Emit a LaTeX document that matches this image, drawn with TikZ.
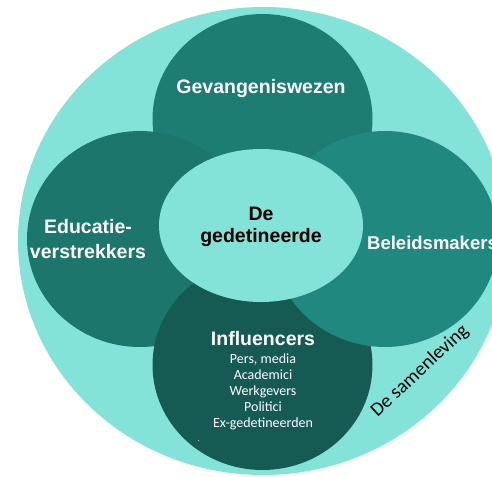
\documentclass[tikz,border=0pt]{standalone}
\usepackage{fontspec}
\setmainfont{Liberation Sans}
\newfontfamily\calib{Carlito}
\usepackage{tikz}
\usetikzlibrary{shapes.geometric}
\usetikzlibrary{positioning}

\definecolor{lichtgroen}{HTML}{84E3D8}
\definecolor{boven}{HTML}{1E7D72}
\definecolor{links}{HTML}{1C766B}
\definecolor{rechts}{HTML}{20887E}
\definecolor{onder}{HTML}{165B53}

\tikzset{
	blob/.style={ellipse,inner sep=0pt,draw=none},
	lbl/.style={text=white,inner sep=0pt,align=center,font=\bfseries\fontsize{19.5}{25}\selectfont},
	sub/.style={text=white,inner sep=0pt,align=center,font=\calib\fontsize{14}{16}\selectfont}
}

\begin{document}
\begin{tikzpicture}[x=1pt,y=-1pt]
	\useasboundingbox (0,0) rectangle (492,476);
	\clip (0,0) rectangle (492,476);
	\node[blob,fill=lichtgroen,minimum width=490pt,minimum height=468pt] (samen) at (263,241) {};
	\node[blob,fill=boven,minimum width=220pt,minimum height=210pt] (gev) at (262.5,119) {};
	\node[blob,fill=links,minimum width=226pt,minimum height=216pt] (edu) at (140,239) {};
	\node[blob,fill=onder,minimum width=220pt,minimum height=210pt] (infl) at (262.5,365) {};
	\node[blob,fill=rechts,minimum width=226pt,minimum height=216pt] (beleid) at (385,239) {};
	\node[blob,fill=lichtgroen,minimum width=204pt,minimum height=153pt] (gedet) at (261,225.5) {};
	\node[lbl,anchor=base] (gevtxt) at (261,94) {Gevangeniswezen};
	\node[lbl] (edutxt) at (88,239.5) {Educatie-\\verstrekkers};
	\node[lbl,anchor=base west,font=\bfseries\fontsize{18.5}{22}\selectfont] (beleidtxt) at (367,249) {Beleidsmakers};
	\node[lbl,text=black,font=\bfseries\fontsize{19.5}{22}\selectfont] (gedettxt) at (261,227) {De\\gedetineerde};
	\node[lbl,anchor=base] (infltxt) at (263,345) {Influencers};
	\node[sub] (infllijst) at (263,391.5) {Pers, media\\Academici\\Werkgevers\\Politici\\Ex-gedetineerden};
	\node[sub,font=\calib\fontsize{8}{8}\selectfont] (punt) at (199,441) {.};
	\node[inner sep=0pt,rotate=43,font=\calib\fontsize{19.5}{21}\selectfont] (samentxt) at (420,371) {De samenleving};
\end{tikzpicture}
\end{document}
